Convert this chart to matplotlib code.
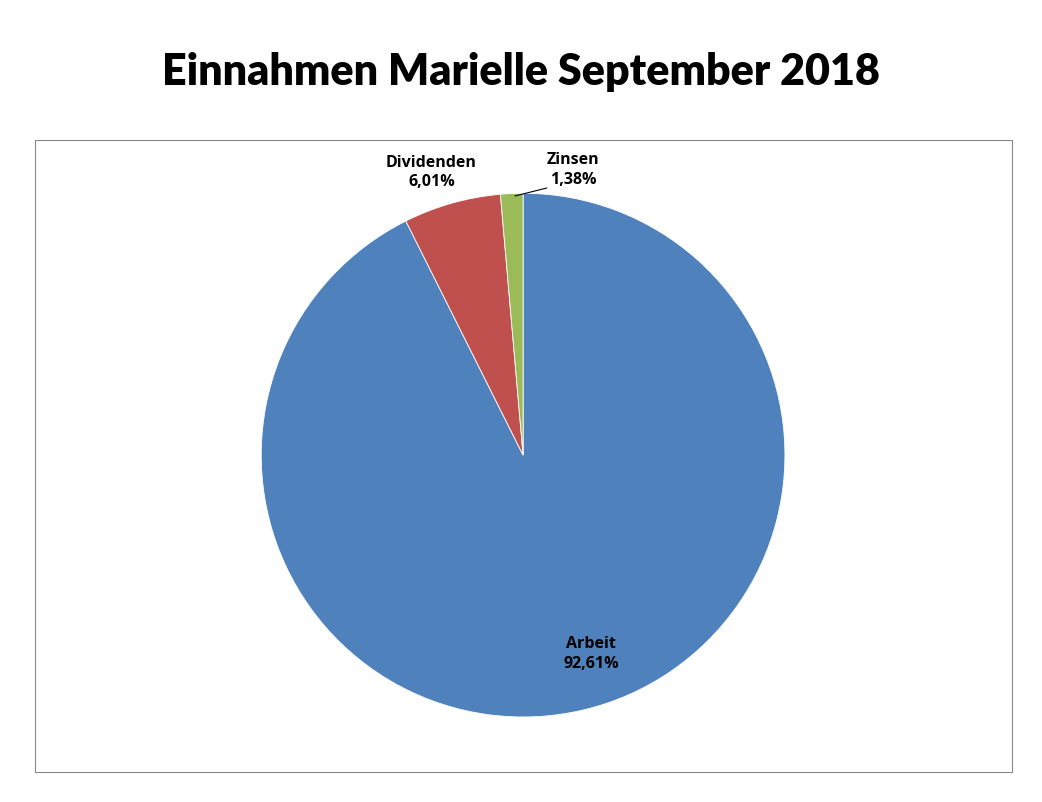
import matplotlib.pyplot as plt
from matplotlib.patches import Rectangle

labels = ['Arbeit', 'Dividenden', 'Zinsen']
values = [92.61, 6.01, 1.38]
colors = ['#4F81BD', '#C0504D', '#9BBB59']
pct_text = ['92,61%', '6,01%', '1,38%']

fig = plt.figure(figsize=(10.42, 8.02), dpi=100)
fig.patches.append(Rectangle((35/1042, 1-772/802), 977/1042, 632/802,
                             transform=fig.transFigure, fill=False,
                             edgecolor='#888888', linewidth=0.8))
fig.text(0.5, 1-72/802, 'Einnahmen Marielle September 2018', ha='center', va='center',
         fontsize=31, fontweight='black', family='Lato')

ax = fig.add_axes([0.502-0.2515, 0.4327-0.3267, 0.503, 0.653])
ax.pie(values, colors=colors, startangle=90, counterclock=False, radius=1,
       wedgeprops=dict(linewidth=0.6, edgecolor='white'))
ax.set_xlim(-1, 1)
ax.set_ylim(-1, 1)
ax.set_aspect('equal')

label_pos = [(0.26, -0.76), (-0.35, 1.08), (0.19, 1.09)]
for name, pt, (x, y) in zip(labels, pct_text, label_pos):
    ax.text(x, y, f'{name}\n{pt}', ha='center', va='center', fontsize=11.5,
            fontweight='bold', family='Open Sans', linespacing=1.3, clip_on=False)
ax.plot([-0.03, 0.09], [0.99, 1.02], color='black', linewidth=0.8, clip_on=False)

fig.savefig('out.png', dpi=100)
